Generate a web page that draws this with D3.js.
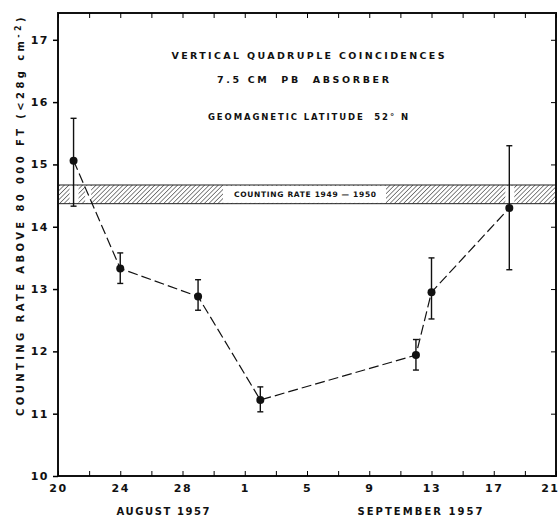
<!DOCTYPE html>
<html>
<head>
<meta charset="utf-8">
<script src="https://cdn.jsdelivr.net/npm/d3@7"></script>
<style>
  body { margin: 0; background: #fff; }
  text { font-family: "DejaVu Sans", sans-serif; font-weight: bold; fill: #111; }
</style>
</head>
<body>
<div class="viz"></div>
<script>
// days counted from 20 August 1957
var obsDay  = [1, 4, 9, 13, 23, 24, 29];
var rate    = [15.06, 13.33, 12.88, 11.22, 11.94, 12.95, 14.30];
var rateHi  = [15.74, 13.58, 13.15, 11.43, 12.19, 13.50, 15.30];
var rateLo  = [14.33, 13.09, 12.66, 11.03, 11.70, 12.52, 13.31];

var xTickDays   = [0, 4, 8, 12, 16, 20, 24, 28, 32];
var xTickLabels = ["20", "24", "28", "1", "5", "9", "13", "17", "21"];
var yTicks      = [10, 11, 12, 13, 14, 15, 16, 17];

var band = [14.37, 14.67];   // counting rate 1949 - 1950

var W = 560, H = 518,
    margin = {top: 13, right: 4, bottom: 42, left: 58},
    width = W - margin.left - margin.right,
    height = H - margin.top - margin.bottom;

var svg = d3.select('.viz').append('svg')
    .attr('width', W)
    .attr('height', H);

var x = d3.scaleLinear().domain([0, 32]).range([margin.left, margin.left + width]);
var y = d3.scaleLinear().domain([10, 17.43]).range([margin.top + height, margin.top]);

var defs = svg.append('defs');
defs.append('pattern')
    .attr('id', 'hatch')
    .attr('patternUnits', 'userSpaceOnUse')
    .attr('width', 3.2)
    .attr('height', 3.2)
    .attr('patternTransform', 'rotate(45)')
  .append('line')
    .attr('x1', 0).attr('y1', 0)
    .attr('x2', 0).attr('y2', 3.2)
    .attr('stroke', '#222')
    .attr('stroke-width', 1.1);

// hatched reference band
svg.append('rect')
    .attr('x', x(0))
    .attr('y', y(band[1]))
    .attr('width', x(32) - x(0))
    .attr('height', y(band[0]) - y(band[1]))
    .attr('fill', 'url(#hatch)');

// white gaps in the hatching: label box, error bars, line crossing
var gaps = [[223, 386]];
[0, 6].forEach(function(i) { gaps.push([x(obsDay[i]) - 4, x(obsDay[i]) + 5]); });
var bandMid = (band[0] + band[1]) / 2;
var t = (rate[0] - bandMid) / (rate[0] - rate[1]);
var xc = x(obsDay[0] + t * (obsDay[1] - obsDay[0]));
gaps.push([xc - 3, xc + 3]);

svg.selectAll('.gap')
    .data(gaps)
    .enter().append('rect')
    .attr('class', 'gap')
    .attr('x', function(d) { return d[0]; })
    .attr('y', y(band[1]) + 0.8)
    .attr('width', function(d) { return d[1] - d[0]; })
    .attr('height', y(band[0]) - y(band[1]) - 1.6)
    .attr('fill', '#fff');

svg.selectAll('.bandline')
    .data(band)
    .enter().append('line')
    .attr('x1', x(0)).attr('x2', x(32))
    .attr('y1', function(d) { return y(d); })
    .attr('y2', function(d) { return y(d); })
    .attr('stroke', '#222')
    .attr('stroke-width', 1);

svg.append('text')
    .attr('x', 305)
    .attr('y', y(bandMid) + 2.6)
    .attr('text-anchor', 'middle')
    .attr('font-size', 7.5)
    .attr('textLength', 142)
    .attr('lengthAdjust', 'spacing')
    .text('COUNTING RATE 1949 \u2014 1950');

// frame
svg.append('rect')
    .attr('x', x(0)).attr('y', y(17.43))
    .attr('width', x(32) - x(0))
    .attr('height', y(10) - y(17.43))
    .attr('fill', 'none')
    .attr('stroke', '#111')
    .attr('stroke-width', 2);

// axes
var minorDays = d3.range(0, 33, 2);

svg.append('g')
    .attr('transform', 'translate(0,' + y(10) + ')')
    .call(d3.axisTop(x).tickValues(minorDays).tickSize(5).tickFormat(''))
    .call(function(g) { g.select('.domain').remove(); });

svg.append('g')
    .attr('transform', 'translate(0,' + y(17.43) + ')')
    .call(d3.axisBottom(x).tickValues(minorDays).tickSize(5).tickFormat(''))
    .call(function(g) { g.select('.domain').remove(); });

svg.append('g')
    .attr('transform', 'translate(0,' + y(10) + ')')
    .call(d3.axisBottom(x).tickValues(xTickDays).tickSize(0).tickPadding(8)
        .tickFormat(function(d, i) { return xTickLabels[i]; }))
    .call(function(g) {
        g.select('.domain').remove();
        g.selectAll('text').attr('font-size', 11).attr('letter-spacing', 1.5)
            .attr('font-family', '"DejaVu Sans", sans-serif').attr('font-weight', 'bold');
        // last label sits at the window edge, keep it inside
        g.selectAll('text').filter(function(d) { return d == 32; })
            .attr('text-anchor', 'end').attr('dx', 3);
    });

svg.append('g')
    .attr('transform', 'translate(' + x(0) + ',0)')
    .call(d3.axisLeft(y).tickValues(yTicks).tickSize(5).tickPadding(4).tickFormat(d3.format('d')))
    .call(function(g) {
        g.select('.domain').remove();
        g.selectAll('line').attr('stroke-width', 1.5);
        g.selectAll('text').attr('font-size', 11).attr('letter-spacing', 1.5)
            .attr('font-family', '"DejaVu Sans", sans-serif').attr('font-weight', 'bold');
    });

svg.append('g')
    .attr('transform', 'translate(' + x(32) + ',0)')
    .call(d3.axisLeft(y).tickValues(yTicks).tickSize(5).tickFormat(''))
    .call(function(g) { g.select('.domain').remove(); });

// month labels
svg.append('text').attr('x', 163).attr('y', 515)
    .attr('text-anchor', 'middle').attr('font-size', 10)
    .attr('textLength', 93).attr('lengthAdjust', 'spacing')
    .text('AUGUST 1957');
svg.append('text').attr('x', 420).attr('y', 515)
    .attr('text-anchor', 'middle').attr('font-size', 10)
    .attr('textLength', 125).attr('lengthAdjust', 'spacing')
    .text('SEPTEMBER 1957');

// titles
var titles = [
    {t: 'VERTICAL QUADRUPLE COINCIDENCES', y: 59, len: 273},
    {t: '7.5 CM  PB  ABSORBER', y: 83, len: 172},
    {t: 'GEOMAGNETIC LATITUDE  52\u00b0 N', y: 120, len: 200}
];
svg.selectAll('.title')
    .data(titles)
    .enter().append('text')
    .attr('class', 'title')
    .attr('x', function(d, i) { return i == 1 ? 303 : 308; })
    .attr('y', function(d) { return d.y; })
    .attr('text-anchor', 'middle')
    .attr('font-size', function(d, i) { return i == 2 ? 8.5 : 9.5; })
    .attr('textLength', function(d) { return d.len; })
    .attr('lengthAdjust', 'spacing')
    .style('white-space', 'pre')
    .text(function(d) { return d.t; });

// y axis title
var yl = svg.append('text')
    .attr('transform', 'translate(24,215) rotate(-90)')
    .attr('text-anchor', 'middle')
    .attr('font-size', 10)
    .attr('letter-spacing', 3.4)
    .style('white-space', 'pre');
yl.append('tspan').text('COUNTING RATE ABOVE 80 000 FT (<28g cm');
yl.append('tspan').attr('baseline-shift', '40%').attr('font-size', 8).text('-2');
yl.append('tspan').text(')');

// dashed connecting line
var line = d3.line()
    .x(function(d, i) { return x(obsDay[i]); })
    .y(function(d) { return y(d); });

svg.append('path')
    .datum(rate)
    .attr('d', line)
    .attr('fill', 'none')
    .attr('stroke', '#111')
    .attr('stroke-width', 1.2)
    .attr('stroke-dasharray', '10,4');

// error bars
var eb = svg.selectAll('.err')
    .data(rate)
    .enter().append('g')
    .attr('class', 'err');

eb.append('line')
    .attr('x1', function(d, i) { return x(obsDay[i]); })
    .attr('x2', function(d, i) { return x(obsDay[i]); })
    .attr('y1', function(d, i) { return y(rateLo[i]); })
    .attr('y2', function(d, i) { return y(rateHi[i]); })
    .attr('stroke', '#111').attr('stroke-width', 1.4);

[rateLo, rateHi].forEach(function(arr) {
    eb.append('line')
        .attr('x1', function(d, i) { return x(obsDay[i]) - 3; })
        .attr('x2', function(d, i) { return x(obsDay[i]) + 3; })
        .attr('y1', function(d, i) { return y(arr[i]); })
        .attr('y2', function(d, i) { return y(arr[i]); })
        .attr('stroke', '#111').attr('stroke-width', 1.4);
});

svg.selectAll('.pt')
    .data(rate)
    .enter().append('circle')
    .attr('class', 'pt')
    .attr('cx', function(d, i) { return x(obsDay[i]); })
    .attr('cy', function(d) { return y(d); })
    .attr('r', 4)
    .attr('fill', '#111');
</script>
</body>
</html>
